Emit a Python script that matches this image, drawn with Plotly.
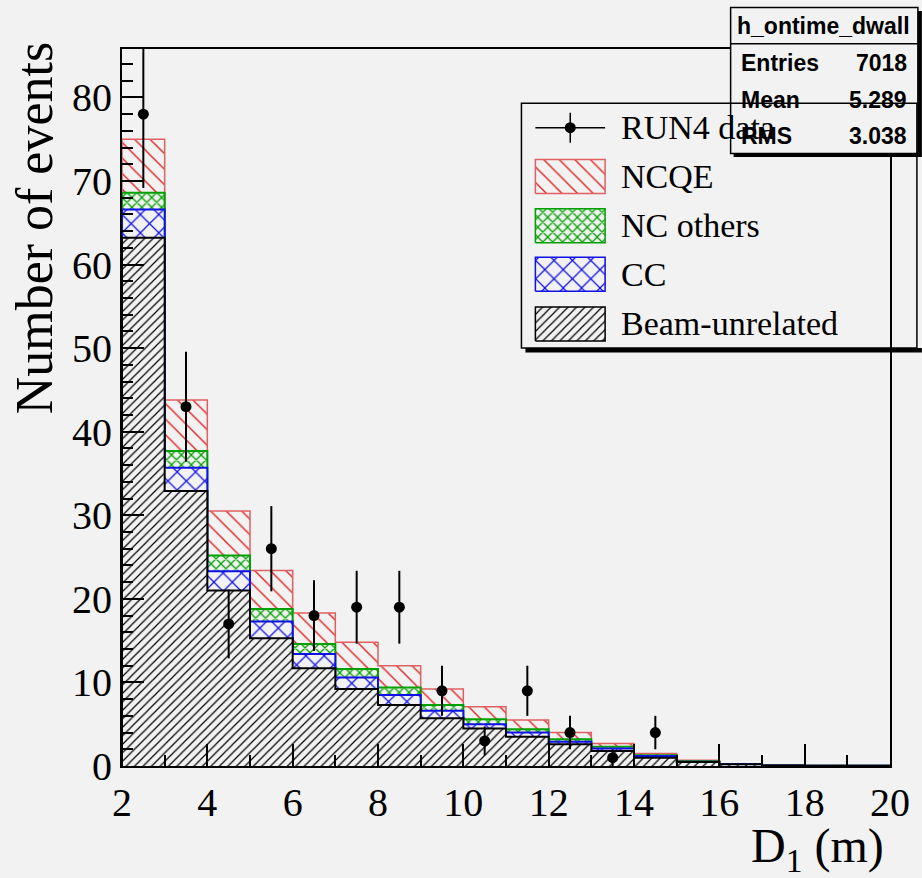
import numpy as np
import plotly.graph_objects as go

# ---------------- data ----------------
bin_edges = list(range(2, 21))          # D1 bins, 1 m wide, 2..20 m
beam_unrelated = [63.2, 32.9, 21.0, 15.3, 11.7, 9.2, 7.3, 5.7, 4.5, 3.5, 2.6, 1.8, 1.0, 0.48, 0.20, 0.05, 0.03, 0.02]
cc_events      = [3.4, 2.8, 2.3, 2.0, 1.7, 1.4, 1.2, 0.9, 0.5, 0.5, 0.3, 0.3, 0.2, 0.04, 0.01, 0.0, 0.0, 0.0]
nc_others      = [2.0, 2.0, 1.9, 1.5, 1.2, 1.0, 0.9, 0.7, 0.6, 0.4, 0.3, 0.2, 0.1, 0.04, 0.01, 0.0, 0.0, 0.0]
ncqe_events    = [6.4, 6.1, 5.3, 4.6, 3.7, 3.2, 2.6, 1.9, 1.5, 1.1, 0.8, 0.4, 0.2, 0.12, 0.03, 0.01, 0.0, 0.0]
run4_data      = [78, 43, 17, 26, 18, 19, 19, 9, 3, 9, 4, 1, 4, 0, 0, 0, 0, 0]

x_ticks = [2, 4, 6, 8, 10, 12, 14, 16, 18, 20]
y_ticks = [0, 10, 20, 30, 40, 50, 60, 70, 80]
legend_labels = ["RUN4 data", "NCQE", "NC others", "CC", "Beam-unrelated"]
stat_title = "h_ontime_dwall"
stat_rows = [("Entries", "7018"), ("Mean", "5.289"), ("RMS", "3.038")]

# ---------------- style ----------------
BG = "#f2f2f2"
SERIF = "Liberation Serif"
SANS = "Liberation Sans"
RED_F, RED_L = "#e02828", "#e06060"
GRN = "#00a000"
BLU = "#1010e8"
BLK = "#000000"

# plot-area pixel geometry (layout only)
L, R, T, B = 122, 893, 49, 766
W, H = R - L, B - T
def fx(px): return (px - L) / W
def fy(py): return (B - py) / H

edges = np.array(bin_edges, dtype=float)
centers = (edges[:-1] + edges[1:]) / 2

beam = np.array(beam_unrelated)
c1 = beam
c2 = c1 + np.array(cc_events)
c3 = c2 + np.array(nc_others)
c4 = c3 + np.array(ncqe_events)

def step_xy(vals):
    xs = [edges[0]] + list(edges[:-1]) + [edges[-1], edges[-1]]
    ys = [0.0] + list(vals) + [vals[-1], 0.0]
    return xs, ys

PAT = {
    "ncqe": ("\\", RED_F, RED_L, 11, 0.13),
    "nco": ("x", GRN, GRN, 7, 0.32),
    "cc": ("x", BLU, BLU, 13, 0.18),
    "beam": ("/", BLK, BLK, 6, 0.2),
}

fig = go.Figure()

layers = [(c4, "ncqe", 1.5), (c3, "nco", 2), (c2, "cc", 2), (c1, "beam", 2)]
for vals, key, lw in layers:
    shp, fg, lc, sz, sol = PAT[key]
    xs, ys = step_xy(vals)
    fig.add_trace(go.Scatter(
        x=xs, y=ys, mode="lines", line=dict(shape="hv", color=lc, width=lw),
        fill="tozeroy", fillcolor=BG,
        fillpattern=dict(shape=shp, fgcolor=fg, bgcolor=BG, size=sz, solidity=sol, fillmode="replace"),
        showlegend=False, hoverinfo="skip"))

d = np.array(run4_data, dtype=float)
mask = d > 0
fig.add_trace(go.Scatter(
    x=centers[mask], y=d[mask], mode="markers",
    marker=dict(color="black", size=11),
    error_y=dict(type="data", array=np.sqrt(d[mask]), thickness=2, width=0, color="black"),
    showlegend=False))

# ---------------- manual ROOT-like legend (swatches on overlay axis) ----------------
sw_x0, sw_x1 = fx(537), fx(607)
row_py = [127.7, 176.5, 225.7, 274.3, 324.0]
half = 17 / H
sw_keys = [None, "ncqe", "nco", "cc", "beam"]
for i, key in enumerate(sw_keys):
    yc = fy(row_py[i])
    if key is None:
        fig.add_trace(go.Scatter(
            x=[(sw_x0 + sw_x1) / 2], y=[yc], mode="markers", xaxis="x2", yaxis="y2",
            marker=dict(color="black", size=11),
            error_x=dict(type="constant", value=(sw_x1 - sw_x0) / 2, thickness=1.5, width=0, color="black"),
            error_y=dict(type="constant", value=15 / H, thickness=1.5, width=0, color="black"),
            showlegend=False, hoverinfo="skip"))
    else:
        shp, fg, lc, sz, sol = PAT[key]
        fig.add_trace(go.Scatter(
            x=[sw_x0, sw_x1, sw_x1, sw_x0, sw_x0], y=[yc - half, yc - half, yc + half, yc + half, yc - half],
            mode="lines", xaxis="x2", yaxis="y2", line=dict(color=lc, width=1.5),
            fill="toself", fillcolor=BG,
            fillpattern=dict(shape=shp, fgcolor=fg, bgcolor=BG, size=sz, solidity=sol, fillmode="replace"),
            showlegend=False, hoverinfo="skip"))

annotations = []
for i, lab in enumerate(legend_labels):
    annotations.append(dict(text=lab, xref="paper", yref="paper", x=fx(621), y=fy(row_py[i]),
                            xanchor="left", yanchor="middle", showarrow=False,
                            font=dict(family=SERIF, size=34, color="black")))

# stat box texts
annotations.append(dict(text="<b>%s</b>" % stat_title, xref="paper", yref="paper", x=fx(826), y=fy(25.5),
                        xanchor="center", yanchor="middle", showarrow=False,
                        font=dict(family=SANS, size=23, color="black")))
for (k, v), pyc in zip(stat_rows, [62.5, 99.5, 136.0]):
    annotations.append(dict(text="<b>%s</b>" % k, xref="paper", yref="paper", x=fx(741), y=fy(pyc),
                            xanchor="left", yanchor="middle", showarrow=False,
                            font=dict(family=SANS, size=23, color="black")))
    annotations.append(dict(text="<b>%s</b>" % v, xref="paper", yref="paper", x=fx(912), y=fy(pyc),
                            xanchor="right", yanchor="middle", showarrow=False,
                            font=dict(family=SANS, size=23, color="black")))

# axis titles
annotations.append(dict(text="Number of events", xref="paper", yref="paper", x=fx(34), y=fy(228),
                        xanchor="center", yanchor="middle", textangle=-90, showarrow=False,
                        font=dict(family=SERIF, size=52, color="black")))
annotations.append(dict(text="D<sub>1</sub> (m)", xref="paper", yref="paper", x=fx(889), y=fy(849),
                        xanchor="right", yanchor="middle", showarrow=False,
                        font=dict(family=SERIF, size=48, color="black")))

shapes = [
    # stat box shadow + box
    dict(type="rect", xref="paper", yref="paper", x0=fx(736), x1=fx(925), y0=fy(157), y1=fy(11),
         fillcolor="black", line=dict(width=0), layer="above"),
    dict(type="rect", xref="paper", yref="paper", x0=fx(733), x1=fx(921), y0=fy(153.5), y1=fy(7.5),
         fillcolor=BG, line=dict(color="black", width=1.5), layer="above"),
    dict(type="line", xref="paper", yref="paper", x0=fx(733), x1=fx(921), y0=fy(43.7), y1=fy(43.7),
         line=dict(color="black", width=1.5), layer="above"),
    # legend shadow + box (transparent)
    dict(type="rect", xref="paper", yref="paper", x0=fx(527), x1=fx(925), y0=fy(352.5), y1=fy(348),
         fillcolor="black", line=dict(width=0), layer="above"),
    dict(type="rect", xref="paper", yref="paper", x0=fx(523), x1=fx(920), y0=fy(348), y1=fy(103.3),
         fillcolor="rgba(0,0,0,0)", line=dict(color="black", width=1.5), layer="above"),
]

tickfont = dict(family=SERIF, size=40, color="black")
fig.update_layout(
    width=922, height=878,
    margin=dict(l=L, r=922 - R, t=T, b=878 - B),
    paper_bgcolor=BG, plot_bgcolor=BG,
    showlegend=False,
    xaxis=dict(range=[edges[0], edges[-1]], tickvals=x_ticks, ticktext=[str(v) for v in x_ticks],
               ticks="inside", ticklen=22, tickwidth=1.5, tickcolor="black",
               minor=dict(dtick=1, ticks="inside", ticklen=11, tickwidth=1.5, tickcolor="black"),
               showline=True, linecolor="black", linewidth=2, mirror=True,
               showgrid=False, zeroline=False, tickfont=tickfont),
    yaxis=dict(range=[0, 85.8], tickvals=y_ticks, ticktext=[str(v) for v in y_ticks],
               ticks="inside", ticklen=22, tickwidth=1.5, tickcolor="black",
               minor=dict(dtick=2, ticks="inside", ticklen=11, tickwidth=1.5, tickcolor="black"),
               showline=True, linecolor="black", linewidth=2, mirror=True,
               showgrid=False, zeroline=False, tickfont=tickfont),
    xaxis2=dict(overlaying="x", range=[0, 1], visible=False, fixedrange=True),
    yaxis2=dict(overlaying="y", range=[0, 1], visible=False, fixedrange=True),
    annotations=annotations,
    shapes=shapes,
)

fig.write_html("out.html")
